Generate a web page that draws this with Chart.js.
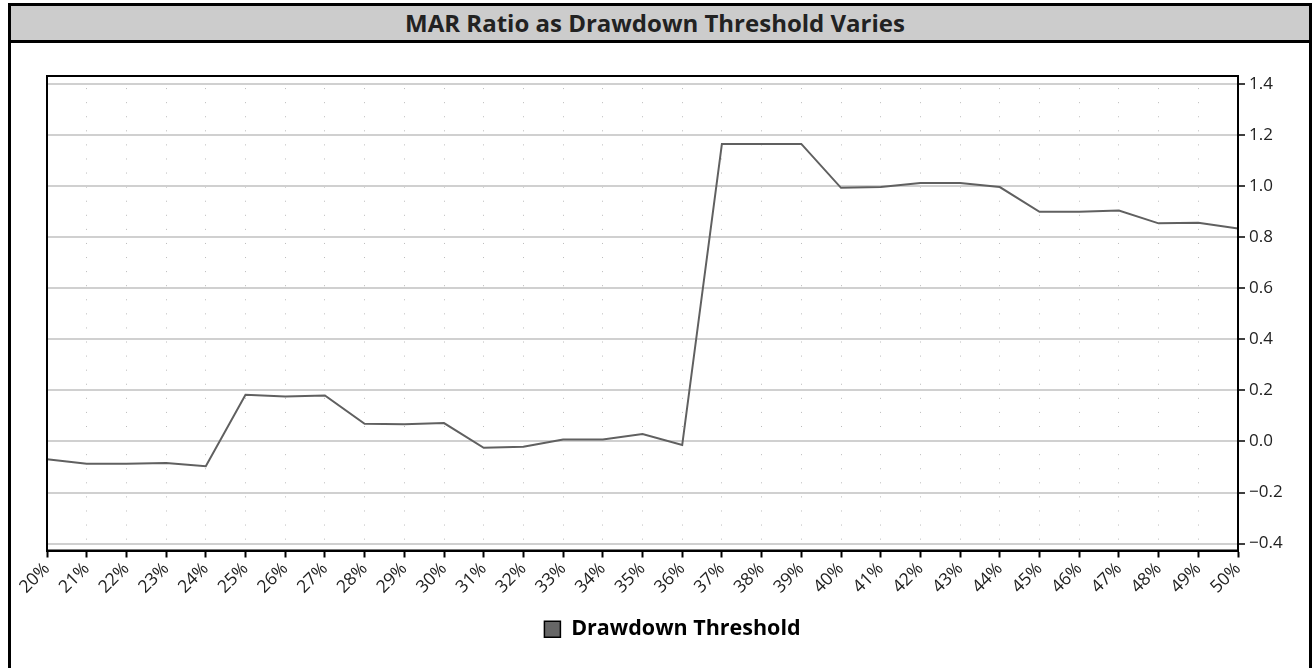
<!DOCTYPE html>
<html>
<head>
<meta charset="utf-8">
<script src="https://cdn.jsdelivr.net/npm/chart.js@4"></script>
<style>
  body { margin:0; background:#fff; }
  #wrap { position:relative; width:1314px; height:668px; overflow:hidden; }
  #frame { position:absolute; left:8px; top:3px; width:1298px; height:700px;
           border:3px solid #000; border-bottom:none; }
  #title { height:34px; background:#ccc; border-bottom:3px solid #000;
           font:bold 24px "Open Sans", sans-serif; color:#222;
           line-height:34px; text-align:center; padding-right:10px; }
  #c { position:absolute; left:0; top:0; }
</style>
</head>
<body>
<div id="wrap">
  <div id="frame"><div id="title">MAR Ratio as Drawdown Threshold Varies</div></div>
  <canvas id="c" width="1314" height="668"></canvas>
</div>
<script>
const thresholds = ['20%','21%','22%','23%','24%','25%','26%','27%','28%','29%','30%',
  '31%','32%','33%','34%','35%','36%','37%','38%','39%','40%',
  '41%','42%','43%','44%','45%','46%','47%','48%','49%','50%'];
const marRatio = [-0.07, -0.087, -0.087, -0.084, -0.097, 0.183, 0.176, 0.18, 0.069, 0.067, 0.072,
  -0.025, -0.021, 0.008, 0.008, 0.029, -0.014, 1.165, 1.165, 1.165, 0.993,
  0.996, 1.012, 1.012, 0.996, 0.899, 0.899, 0.904, 0.854, 0.856, 0.834];
const seriesName = 'Drawdown Threshold';
const yMin = -0.427, yMax = 1.431, yStep = 0.2;

const frameBox = {
  id:'frameBox',
  afterDraw(chart){
    const a = chart.chartArea, ctx = chart.ctx;
    ctx.save();
    ctx.strokeStyle = '#000';
    ctx.lineWidth = 2;
    ctx.strokeRect(a.left, a.top, a.right - a.left, a.bottom - a.top);
    ctx.restore();
  }
};

new Chart(document.getElementById('c').getContext('2d'), {
  type:'line',
  data:{ labels: thresholds, datasets:[{
    label: seriesName, data: marRatio,
    borderColor:'#606060', backgroundColor:'#666', borderWidth:2,
    pointRadius:0, tension:0
  }]},
  options:{
    responsive:false, animation:false,
    layout:{ padding:{ left:47, top:76, right:16, bottom:18 } },
    plugins:{
      title:{ display:false },
      tooltip:{ enabled:false },
      legend:{
        position:'bottom',
        labels:{
          boxWidth:16, boxHeight:16, padding:10, color:'#222',
          font:{ family:'"Open Sans", sans-serif', size:21.5, weight:'bold' },
          generateLabels(chart){
            return chart.data.datasets.map((d, i) => ({
              text:d.label, fillStyle:'#666', strokeStyle:'#000', lineWidth:1.5, datasetIndex:i
            }));
          }
        }
      }
    },
    scales:{
      x:{
        offset:false,
        grid:{ color:'#bbb', lineWidth:1, tickColor:'#000', tickWidth:2, tickLength:7 },
        border:{ color:'#000', width:2, dash:[1,13.08], dashOffset:2 },
        ticks:{ color:'#222', minRotation:45, maxRotation:45, padding:1, autoSkip:false,
                font:{ family:'"Open Sans", sans-serif', size:17.5 } },
        afterFit(s){ s.height = 58; }
      },
      y:{
        position:'right', min:yMin, max:yMax,
        grid:{ color:'#d0d0d0', lineWidth:2, tickColor:'#000', tickWidth:1.5, tickLength:7 },
        border:{ color:'#000', width:2 },
        ticks:{ stepSize:yStep, includeBounds:false, color:'#222', padding:4,
                font:{ family:'"Open Sans", sans-serif', size:17 },
                callback(v){ return v < 0 ? '\u2212' + Math.abs(v).toFixed(1) : v.toFixed(1); } },
        afterFit(s){ s.width = 60; }
      }
    }
  },
  plugins:[frameBox]
});
</script>
</body>
</html>
